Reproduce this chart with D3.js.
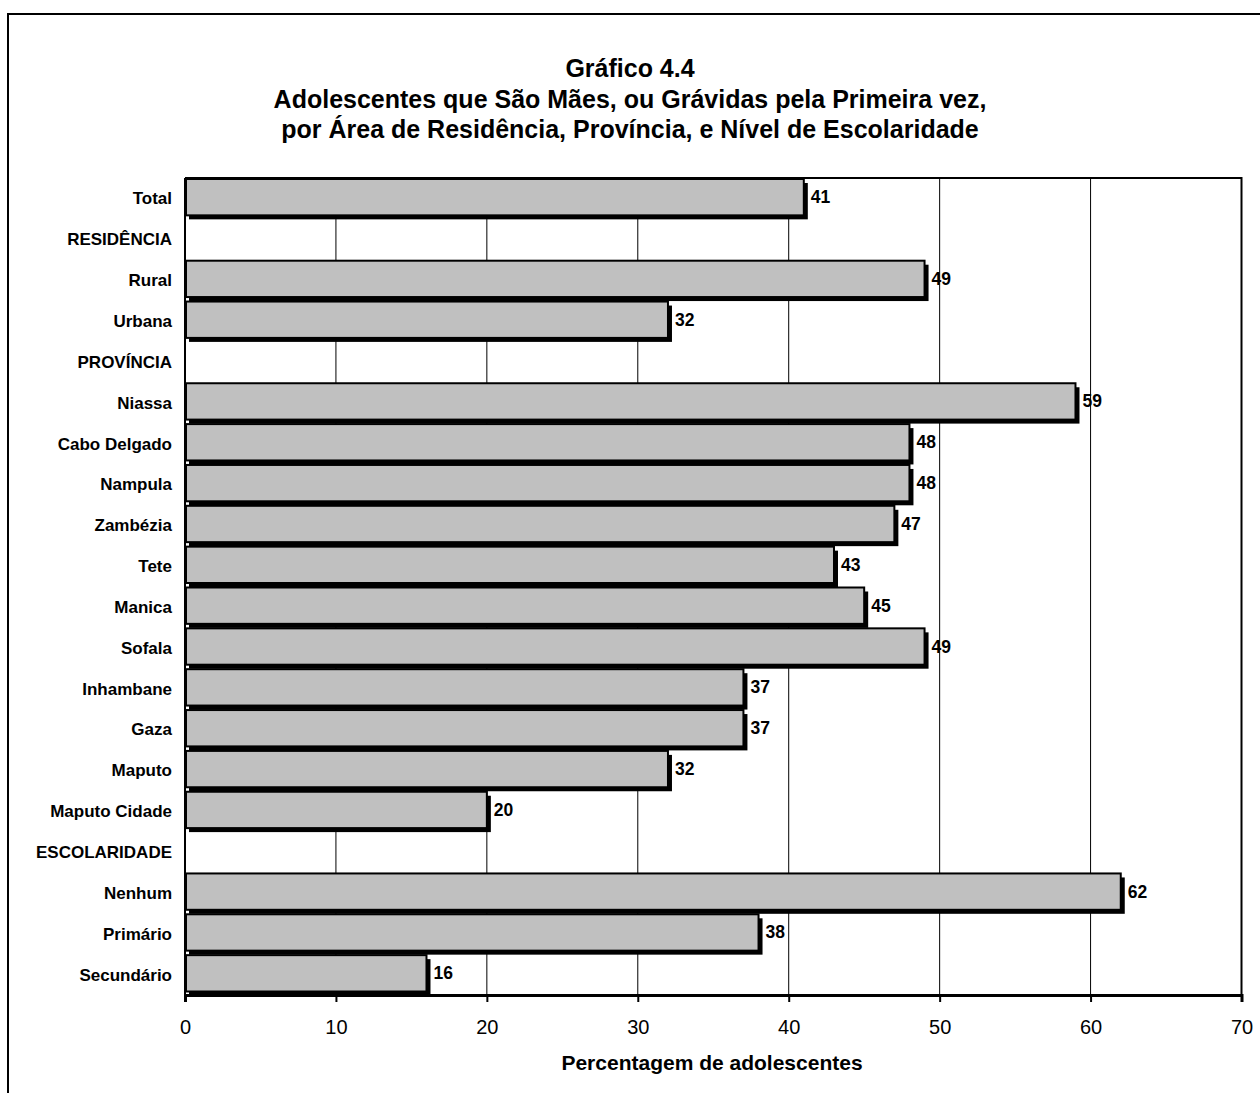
<!DOCTYPE html>
<html><head><meta charset="utf-8">
<script src="https://cdn.jsdelivr.net/npm/d3@7"></script>
<style>body{margin:0;background:#fff}svg{display:block}</style>
</head><body>
<svg id="c" width="1260" height="1093"></svg>
<script>
const categories = ["Total","RESIDÊNCIA","Rural","Urbana","PROVÍNCIA","Niassa","Cabo Delgado","Nampula","Zambézia","Tete","Manica","Sofala","Inhambane","Gaza","Maputo","Maputo Cidade","ESCOLARIDADE","Nenhum","Primário","Secundário"];
const values = [41,null,49,32,null,59,48,48,47,43,45,49,37,37,32,20,null,62,38,16];
const xTicks = [0,10,20,30,40,50,60,70];
const titleLines = ["Gráfico 4.4","Adolescentes que São Mães, ou Grávidas pela Primeira vez,","por Área de Residência, Província, e Nível de Escolaridade"];
const xTitle = "Percentagem de adolescentes";

const svg = d3.select("#c");
const font = "'Liberation Sans', Arial, sans-serif";
const L = 185, R = 1241.5, T = 178, B = 995;

// outer frame
svg.append("path").attr("d","M8,1100 V14 H1270").attr("fill","none").attr("stroke","#000").attr("stroke-width",2);

// title
const ty = [77, 107.5, 138];
titleLines.forEach((t,i)=>{
  svg.append("text").attr("x",630).attr("y",ty[i]).attr("text-anchor","middle")
    .attr("font-family",font).attr("font-weight","bold").attr("font-size",25).text(t);
});

const x = d3.scaleLinear().domain([0,70]).range([L,R]);
const y = d3.scaleBand().domain(categories).range([T,B]).padding(0);
const data = categories.map((c,i)=>({c, v: values[i]}));

// gridlines
svg.append("g").selectAll("line").data(xTicks.slice(1,-1)).join("line")
  .attr("x1",d=>x(d)).attr("x2",d=>x(d)).attr("y1",T).attr("y2",B)
  .attr("stroke","#000").attr("stroke-width",1);

const bw = y.bandwidth();
const bh = bw - 4.5, off = 4;
const bars = data.filter(d=>d.v!=null);
// shadows
svg.append("g").selectAll("rect").data(bars).join("rect")
  .attr("x",x(0)+off).attr("y",d=>y(d.c)+1+off)
  .attr("width",d=>x(d.v)-x(0)).attr("height",bh)
  .attr("fill","#000");
// bars
svg.append("g").selectAll("rect").data(bars).join("rect")
  .attr("x",x(0)+1).attr("y",d=>y(d.c)+1)
  .attr("width",d=>x(d.v)-x(0)-1).attr("height",bh)
  .attr("fill","#c0c0c0").attr("stroke","#000").attr("stroke-width",2);
// value labels
svg.append("g").selectAll("text").data(bars).join("text")
  .attr("x",d=>x(d.v)+off+3).attr("y",d=>y(d.c)+1+bh/2+6)
  .attr("font-family",font).attr("font-weight","bold").attr("font-size",17.5)
  .text(d=>d.v);

// category labels
svg.append("g").selectAll("text").data(categories).join("text")
  .attr("x",172).attr("y",d=>y(d)+bw/2+6).attr("text-anchor","end")
  .attr("font-family",font).attr("font-weight","bold").attr("font-size",17)
  .text(d=>d);

// plot border
svg.append("path").attr("d",`M${L},${T} H${R} V${B}`).attr("fill","none").attr("stroke","#000").attr("stroke-width",2);
svg.append("line").attr("x1",L).attr("x2",L).attr("y1",T).attr("y2",B).attr("stroke","#000").attr("stroke-width",2);

// x axis
const ax = svg.append("g").attr("transform",`translate(0,${B})`)
  .call(d3.axisBottom(x).tickValues(xTicks).tickSize(7).tickPadding(17.8).tickFormat(d3.format("d")));
ax.select(".domain").attr("stroke","#000").attr("stroke-width",3);
ax.selectAll(".tick line").attr("stroke","#000").attr("stroke-width",2);
ax.selectAll(".tick text").attr("font-family",font).attr("font-size",20).attr("fill","#000");

svg.append("text").attr("x",712).attr("y",1070).attr("text-anchor","middle")
  .attr("font-family",font).attr("font-weight","bold").attr("font-size",21).text(xTitle);
</script>
</body></html>
